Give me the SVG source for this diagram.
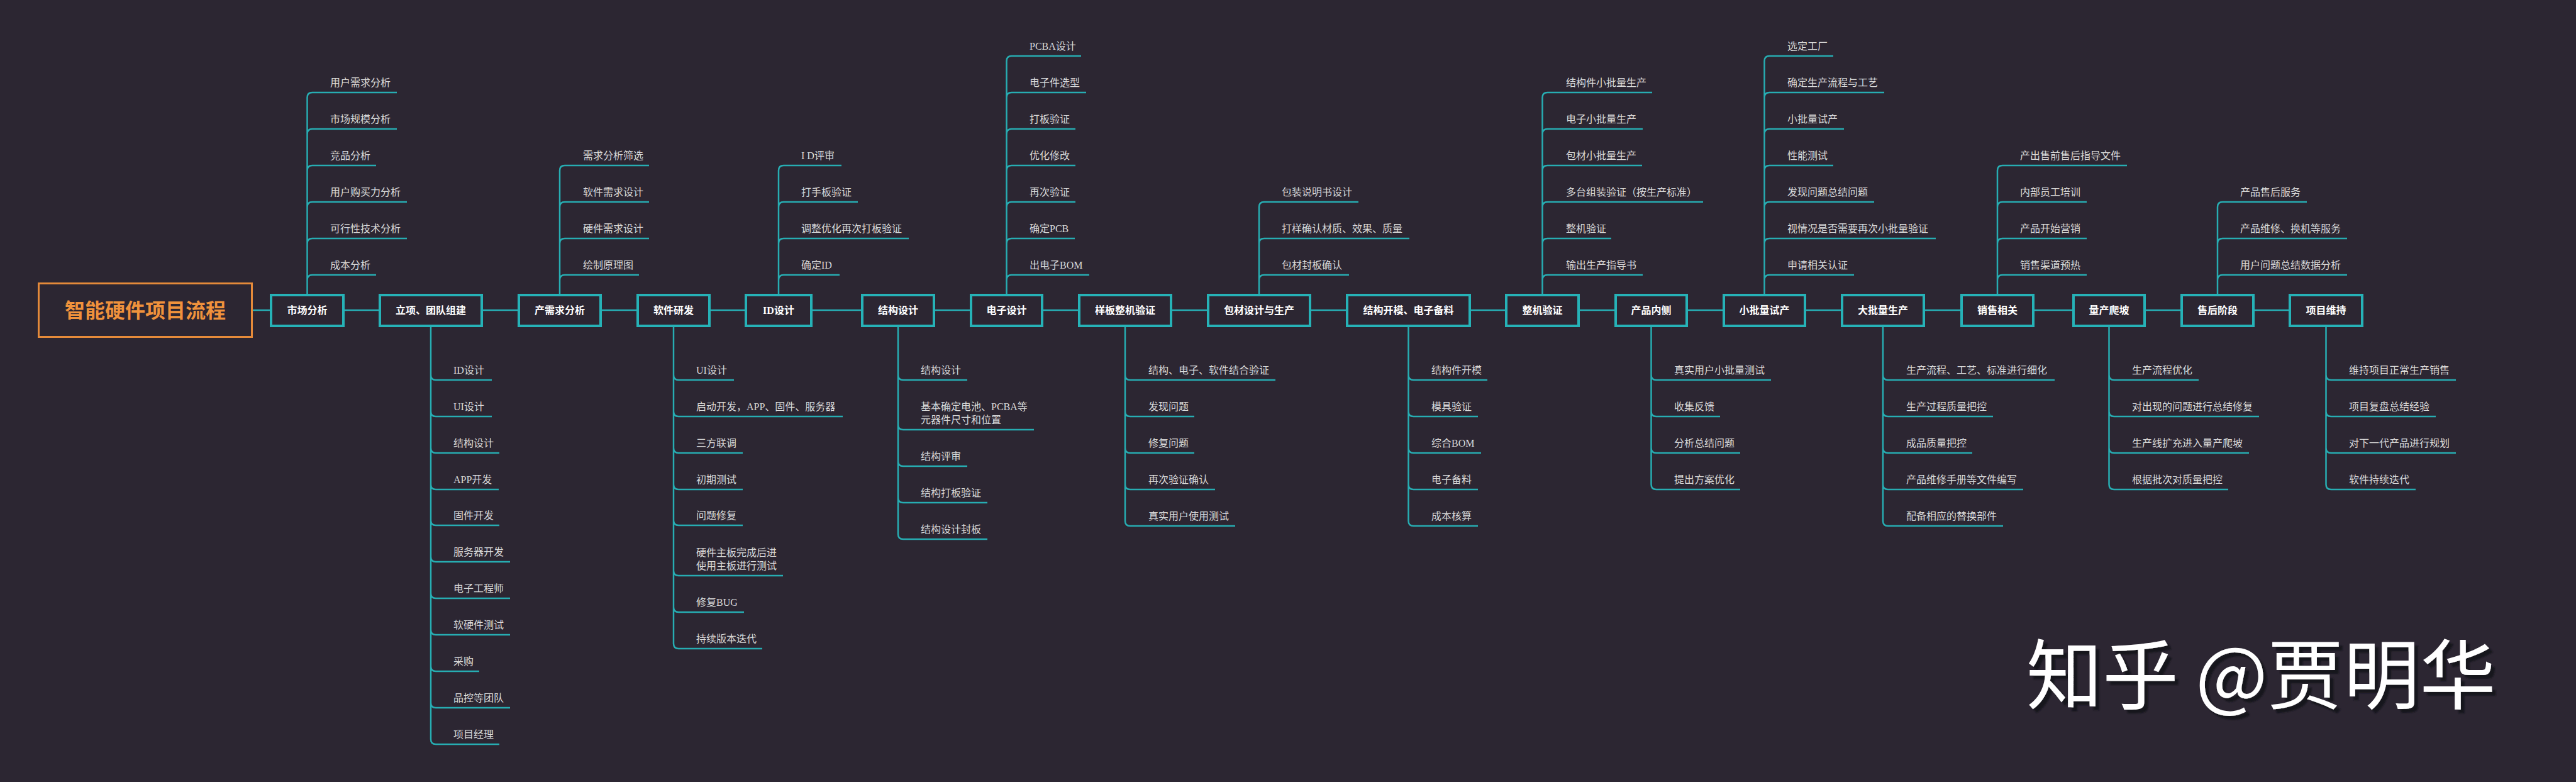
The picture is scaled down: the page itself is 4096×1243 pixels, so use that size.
<svg xmlns="http://www.w3.org/2000/svg" width="4096" height="1243" viewBox="0 0 4096 1243">
<defs>
<style>
.box{fill:#2c2632;stroke:#26b2b7;stroke-width:4}
.lbl{font-family:"Liberation Serif","Noto Sans CJK SC",sans-serif;font-size:16px;font-weight:bold;fill:#ffffff;text-anchor:middle}
.it{font-family:"Liberation Serif","Noto Sans CJK SC",sans-serif;font-size:16px;fill:#dadada}
.c{fill:none;stroke:#27adb2;stroke-width:2.5}
.title{font-family:"Noto Sans CJK SC",sans-serif;font-size:32px;font-weight:bold;fill:#f0923c;text-anchor:middle}
.wm{font-family:"Noto Sans CJK SC",sans-serif;font-size:121px;fill:#ffffff}
</style>
<filter id="sh" x="-5%" y="-20%" width="115%" height="150%"><feDropShadow dx="6" dy="6" stdDeviation="1" flood-color="#17131c" flood-opacity="1"/></filter>
</defs>
<rect width="4096" height="1243" fill="#2c2632"/>

<g id="connectors" class="c">
<path d="M402,493H429M548,493H602M768,493H823M957,493H1012M1130,493H1184M1292,493H1369M1487,493H1542M1659,493H1714M1864,493H1919M2085,493H2140M2339,493H2393M2512,493H2567M2684,493H2739M2872,493H2927M3061,493H3117M3235,493H3295M3412,493H3467M3585,493H3639"/>
<!-- top branches -->
<path d="M488.5,467V155M488.5,155Q488.5,147 496.5,147H631M488.5,213Q488.5,205 496.5,205H631M488.5,271Q488.5,263 496.5,263H598M488.5,329Q488.5,321 496.5,321H647M488.5,387Q488.5,379 496.5,379H647M488.5,445Q488.5,437 496.5,437H598"/>
<path d="M890,467V271M890,271Q890,263 898,263H1032M890,329Q890,321 898,321H1032M890,387Q890,379 898,379H1032M890,445Q890,437 898,437H1016"/>
<path d="M1238,467V271M1238,271Q1238,263 1246,263H1338M1238,329Q1238,321 1246,321H1364M1238,387Q1238,379 1246,379H1445M1238,445Q1238,437 1246,437H1335"/>
<path d="M1600.5,467V97M1600.5,97Q1600.5,89 1608.5,89H1719M1600.5,155Q1600.5,147 1608.5,147H1727M1600.5,213Q1600.5,205 1608.5,205H1710M1600.5,271Q1600.5,263 1608.5,263H1710M1600.5,329Q1600.5,321 1608.5,321H1710M1600.5,387Q1600.5,379 1608.5,379H1709M1600.5,445Q1600.5,437 1608.5,437H1732"/>
<path d="M2002,467V329M2002,329Q2002,321 2010,321H2160M2002,387Q2002,379 2010,379H2241M2002,445Q2002,437 2010,437H2145"/>
<path d="M2452.5,467V155M2452.5,155Q2452.5,147 2460.5,147H2627M2452.5,213Q2452.5,205 2460.5,205H2612M2452.5,271Q2452.5,263 2460.5,263H2611M2452.5,329Q2452.5,321 2460.5,321H2708M2452.5,387Q2452.5,379 2460.5,379H2562M2452.5,445Q2452.5,437 2460.5,437H2612"/>
<path d="M2805.5,467V97M2805.5,97Q2805.5,89 2813.5,89H2915M2805.5,155Q2805.5,147 2813.5,147H2996M2805.5,213Q2805.5,205 2813.5,205H2932M2805.5,271Q2805.5,263 2813.5,263H2915M2805.5,329Q2805.5,321 2813.5,321H2980M2805.5,387Q2805.5,379 2813.5,379H3078M2805.5,445Q2805.5,437 2813.5,437H2948"/>
<path d="M3176,467V271M3176,271Q3176,263 3184,263H3382M3176,329Q3176,321 3184,321H3318M3176,387Q3176,379 3184,379H3318M3176,445Q3176,437 3184,437H3318"/>
<path d="M3526,467V329M3526,329Q3526,321 3534,321H3668M3526,387Q3526,379 3534,379H3732M3526,445Q3526,437 3534,437H3732"/>
<!-- bottom branches -->
<path d="M685,520V1175M685,596Q685,604 693,604H782M685,654Q685,662 693,662H782M685,712Q685,720 693,720H794M685,770Q685,778 693,778H793M685,827Q685,835 693,835H794M685,885Q685,893 693,893H811M685,943Q685,951 693,951H811M685,1001Q685,1009 693,1009H811M685,1059Q685,1067 693,1067H762M685,1117Q685,1125 693,1125H811M685,1175Q685,1183 693,1183H794"/>
<path d="M1071,520V1023M1071,596Q1071,604 1079,604H1167M1071,654Q1071,662 1079,662H1340M1071,712Q1071,720 1079,720H1181M1071,770Q1071,778 1079,778H1181M1071,827Q1071,835 1079,835H1181M1071,907Q1071,915 1079,915H1245M1071,965Q1071,973 1079,973H1183M1071,1023Q1071,1031 1079,1031H1212"/>
<path d="M1428,520V849M1428,596Q1428,604 1436,604H1538M1428,675Q1428,683 1436,683H1644M1428,733Q1428,741 1436,741H1538M1428,791Q1428,799 1436,799H1570M1428,849Q1428,857 1436,857H1570"/>
<path d="M1789,520V828M1789,596Q1789,604 1797,604H2028M1789,654Q1789,662 1797,662H1899M1789,712Q1789,720 1797,720H1899M1789,770Q1789,778 1797,778H1932M1789,828Q1789,836 1797,836H1964"/>
<path d="M2239.5,520V828M2239.5,596Q2239.5,604 2247.5,604H2365M2239.5,654Q2239.5,662 2247.5,662H2350M2239.5,712Q2239.5,720 2247.5,720H2355M2239.5,770Q2239.5,778 2247.5,778H2350M2239.5,828Q2239.5,836 2247.5,836H2350"/>
<path d="M2625.5,520V770M2625.5,596Q2625.5,604 2633.5,604H2816M2625.5,654Q2625.5,662 2633.5,662H2735M2625.5,712Q2625.5,720 2633.5,720H2767M2625.5,770Q2625.5,778 2633.5,778H2767"/>
<path d="M2994,520V828M2994,596Q2994,604 3002,604H3267M2994,654Q2994,662 3002,662H3169M2994,712Q2994,720 3002,720H3136M2994,770Q2994,778 3002,778H3217M2994,828Q2994,836 3002,836H3185"/>
<path d="M3353.5,520V770M3353.5,596Q3353.5,604 3361.5,604H3496M3353.5,654Q3353.5,662 3361.5,662H3592M3353.5,712Q3353.5,720 3361.5,720H3576M3353.5,770Q3353.5,778 3361.5,778H3543"/>
<path d="M3698.5,520V770M3698.5,596Q3698.5,604 3706.5,604H3905M3698.5,654Q3698.5,662 3706.5,662H3873M3698.5,712Q3698.5,720 3706.5,720H3905M3698.5,770Q3698.5,778 3706.5,778H3841"/>
</g>

<g id="root"><rect x="61.5" y="450.5" width="339" height="85" fill="#2c2632" stroke="#e58a3a" stroke-width="3"/><text class="title" x="231" y="505">智能硬件项目流程</text></g>

<g id="n1"><rect class="box" x="431" y="469" width="115" height="49"/><text class="lbl" x="488.5" y="499">市场分析</text></g>
<g id="n2"><rect class="box" x="604" y="469" width="162" height="49"/><text class="lbl" x="685" y="499">立项、团队组建</text></g>
<g id="n3"><rect class="box" x="825" y="469" width="130" height="49"/><text class="lbl" x="890" y="499">产需求分析</text></g>
<g id="n4"><rect class="box" x="1014" y="469" width="114" height="49"/><text class="lbl" x="1071" y="499">软件研发</text></g>
<g id="n5"><rect class="box" x="1186" y="469" width="104" height="49"/><text class="lbl" x="1238" y="499">ID设计</text></g>
<g id="n6"><rect class="box" x="1371" y="469" width="114" height="49"/><text class="lbl" x="1428" y="499">结构设计</text></g>
<g id="n7"><rect class="box" x="1544" y="469" width="113" height="49"/><text class="lbl" x="1600.5" y="499">电子设计</text></g>
<g id="n8"><rect class="box" x="1716" y="469" width="146" height="49"/><text class="lbl" x="1789" y="499">样板整机验证</text></g>
<g id="n9"><rect class="box" x="1921" y="469" width="162" height="49"/><text class="lbl" x="2002" y="499">包材设计与生产</text></g>
<g id="n10"><rect class="box" x="2142" y="469" width="195" height="49"/><text class="lbl" x="2239.5" y="499">结构开模、电子备料</text></g>
<g id="n11"><rect class="box" x="2395" y="469" width="115" height="49"/><text class="lbl" x="2452.5" y="499">整机验证</text></g>
<g id="n12"><rect class="box" x="2569" y="469" width="113" height="49"/><text class="lbl" x="2625.5" y="499">产品内侧</text></g>
<g id="n13"><rect class="box" x="2741" y="469" width="129" height="49"/><text class="lbl" x="2805.5" y="499">小批量试产</text></g>
<g id="n14"><rect class="box" x="2929" y="469" width="130" height="49"/><text class="lbl" x="2994" y="499">大批量生产</text></g>
<g id="n15"><rect class="box" x="3119" y="469" width="114" height="49"/><text class="lbl" x="3176" y="499">销售相关</text></g>
<g id="n16"><rect class="box" x="3297" y="469" width="113" height="49"/><text class="lbl" x="3353.5" y="499">量产爬坡</text></g>
<g id="n17"><rect class="box" x="3469" y="469" width="114" height="49"/><text class="lbl" x="3526" y="499">售后阶段</text></g>
<g id="n18"><rect class="box" x="3641" y="469" width="115" height="49"/><text class="lbl" x="3698.5" y="499">项目维持</text></g>

<g id="n1-items" class="it">
<g id="n1-1"><text x="525" y="137">用户需求分析</text></g>
<g id="n1-2"><text x="525" y="195">市场规模分析</text></g>
<g id="n1-3"><text x="525" y="253">竞品分析</text></g>
<g id="n1-4"><text x="525" y="311">用户购买力分析</text></g>
<g id="n1-5"><text x="525" y="369">可行性技术分析</text></g>
<g id="n1-6"><text x="525" y="427">成本分析</text></g>
</g>
<g id="n2-items" class="it">
<g id="n2-1"><text x="721" y="594">ID设计</text></g>
<g id="n2-2"><text x="721" y="652">UI设计</text></g>
<g id="n2-3"><text x="721" y="710">结构设计</text></g>
<g id="n2-4"><text x="721" y="768">APP开发</text></g>
<g id="n2-5"><text x="721" y="825">固件开发</text></g>
<g id="n2-6"><text x="721" y="883">服务器开发</text></g>
<g id="n2-7"><text x="721" y="941">电子工程师</text></g>
<g id="n2-8"><text x="721" y="999">软硬件测试</text></g>
<g id="n2-9"><text x="721" y="1057">采购</text></g>
<g id="n2-10"><text x="721" y="1115">品控等团队</text></g>
<g id="n2-11"><text x="721" y="1173">项目经理</text></g>
</g>
<g id="n3-items" class="it">
<g id="n3-1"><text x="927" y="253">需求分析筛选</text></g>
<g id="n3-2"><text x="927" y="311">软件需求设计</text></g>
<g id="n3-3"><text x="927" y="369">硬件需求设计</text></g>
<g id="n3-4"><text x="927" y="427">绘制原理图</text></g>
</g>
<g id="n4-items" class="it">
<g id="n4-1"><text x="1107" y="594">UI设计</text></g>
<g id="n4-2"><text x="1107" y="652">启动开发，APP、固件、服务器</text></g>
<g id="n4-3"><text x="1107" y="710">三方联调</text></g>
<g id="n4-4"><text x="1107" y="768">初期测试</text></g>
<g id="n4-5"><text x="1107" y="825">问题修复</text></g>
<g id="n4-6"><text x="1107" y="884">硬件主板完成后进</text><text x="1107" y="905">使用主板进行测试</text></g>
<g id="n4-7"><text x="1107" y="963">修复BUG</text></g>
<g id="n4-8"><text x="1107" y="1021">持续版本迭代</text></g>
</g>
<g id="n5-items" class="it">
<g id="n5-1"><text x="1274" y="253">I D评审</text></g>
<g id="n5-2"><text x="1274" y="311">打手板验证</text></g>
<g id="n5-3"><text x="1274" y="369">调整优化再次打板验证</text></g>
<g id="n5-4"><text x="1274" y="427">确定ID</text></g>
</g>
<g id="n6-items" class="it">
<g id="n6-1"><text x="1464" y="594">结构设计</text></g>
<g id="n6-2"><text x="1464" y="652">基本确定电池、PCBA等</text><text x="1464" y="673">元器件尺寸和位置</text></g>
<g id="n6-3"><text x="1464" y="731">结构评审</text></g>
<g id="n6-4"><text x="1464" y="789">结构打板验证</text></g>
<g id="n6-5"><text x="1464" y="847">结构设计封板</text></g>
</g>
<g id="n7-items" class="it">
<g id="n7-1"><text x="1637" y="79">PCBA设计</text></g>
<g id="n7-2"><text x="1637" y="137">电子件选型</text></g>
<g id="n7-3"><text x="1637" y="195">打板验证</text></g>
<g id="n7-4"><text x="1637" y="253">优化修改</text></g>
<g id="n7-5"><text x="1637" y="311">再次验证</text></g>
<g id="n7-6"><text x="1637" y="369">确定PCB</text></g>
<g id="n7-7"><text x="1637" y="427">出电子BOM</text></g>
</g>
<g id="n8-items" class="it">
<g id="n8-1"><text x="1826" y="594">结构、电子、软件结合验证</text></g>
<g id="n8-2"><text x="1826" y="652">发现问题</text></g>
<g id="n8-3"><text x="1826" y="710">修复问题</text></g>
<g id="n8-4"><text x="1826" y="768">再次验证确认</text></g>
<g id="n8-5"><text x="1826" y="826">真实用户使用测试</text></g>
</g>
<g id="n9-items" class="it">
<g id="n9-1"><text x="2038" y="311">包装说明书设计</text></g>
<g id="n9-2"><text x="2038" y="369">打样确认材质、效果、质量</text></g>
<g id="n9-3"><text x="2038" y="427">包材封板确认</text></g>
</g>
<g id="n10-items" class="it">
<g id="n10-1"><text x="2276" y="594">结构件开模</text></g>
<g id="n10-2"><text x="2276" y="652">模具验证</text></g>
<g id="n10-3"><text x="2276" y="710">综合BOM</text></g>
<g id="n10-4"><text x="2276" y="768">电子备料</text></g>
<g id="n10-5"><text x="2276" y="826">成本核算</text></g>
</g>
<g id="n11-items" class="it">
<g id="n11-1"><text x="2490" y="137">结构件小批量生产</text></g>
<g id="n11-2"><text x="2490" y="195">电子小批量生产</text></g>
<g id="n11-3"><text x="2490" y="253">包材小批量生产</text></g>
<g id="n11-4"><text x="2490" y="311">多台组装验证（按生产标准）</text></g>
<g id="n11-5"><text x="2490" y="369">整机验证</text></g>
<g id="n11-6"><text x="2490" y="427">输出生产指导书</text></g>
</g>
<g id="n12-items" class="it">
<g id="n12-1"><text x="2662" y="594">真实用户小批量测试</text></g>
<g id="n12-2"><text x="2662" y="652">收集反馈</text></g>
<g id="n12-3"><text x="2662" y="710">分析总结问题</text></g>
<g id="n12-4"><text x="2662" y="768">提出方案优化</text></g>
</g>
<g id="n13-items" class="it">
<g id="n13-1"><text x="2842" y="79">选定工厂</text></g>
<g id="n13-2"><text x="2842" y="137">确定生产流程与工艺</text></g>
<g id="n13-3"><text x="2842" y="195">小批量试产</text></g>
<g id="n13-4"><text x="2842" y="253">性能测试</text></g>
<g id="n13-5"><text x="2842" y="311">发现问题总结问题</text></g>
<g id="n13-6"><text x="2842" y="369">视情况是否需要再次小批量验证</text></g>
<g id="n13-7"><text x="2842" y="427">申请相关认证</text></g>
</g>
<g id="n14-items" class="it">
<g id="n14-1"><text x="3031" y="594">生产流程、工艺、标准进行细化</text></g>
<g id="n14-2"><text x="3031" y="652">生产过程质量把控</text></g>
<g id="n14-3"><text x="3031" y="710">成品质量把控</text></g>
<g id="n14-4"><text x="3031" y="768">产品维修手册等文件编写</text></g>
<g id="n14-5"><text x="3031" y="826">配备相应的替换部件</text></g>
</g>
<g id="n15-items" class="it">
<g id="n15-1"><text x="3212" y="253">产出售前售后指导文件</text></g>
<g id="n15-2"><text x="3212" y="311">内部员工培训</text></g>
<g id="n15-3"><text x="3212" y="369">产品开始营销</text></g>
<g id="n15-4"><text x="3212" y="427">销售渠道预热</text></g>
</g>
<g id="n16-items" class="it">
<g id="n16-1"><text x="3390" y="594">生产流程优化</text></g>
<g id="n16-2"><text x="3390" y="652">对出现的问题进行总结修复</text></g>
<g id="n16-3"><text x="3390" y="710">生产线扩充进入量产爬坡</text></g>
<g id="n16-4"><text x="3390" y="768">根据批次对质量把控</text></g>
</g>
<g id="n17-items" class="it">
<g id="n17-1"><text x="3562" y="311">产品售后服务</text></g>
<g id="n17-2"><text x="3562" y="369">产品维修、换机等服务</text></g>
<g id="n17-3"><text x="3562" y="427">用户问题总结数据分析</text></g>
</g>
<g id="n18-items" class="it">
<g id="n18-1"><text x="3735" y="594">维持项目正常生产销售</text></g>
<g id="n18-2"><text x="3735" y="652">项目复盘总结经验</text></g>
<g id="n18-3"><text x="3735" y="710">对下一代产品进行规划</text></g>
<g id="n18-4"><text x="3735" y="768">软件持续迭代</text></g>
</g>

<g id="watermark"><text class="wm" x="3222" y="1117" filter="url(#sh)">知乎 @贾明华</text></g>
</svg>
